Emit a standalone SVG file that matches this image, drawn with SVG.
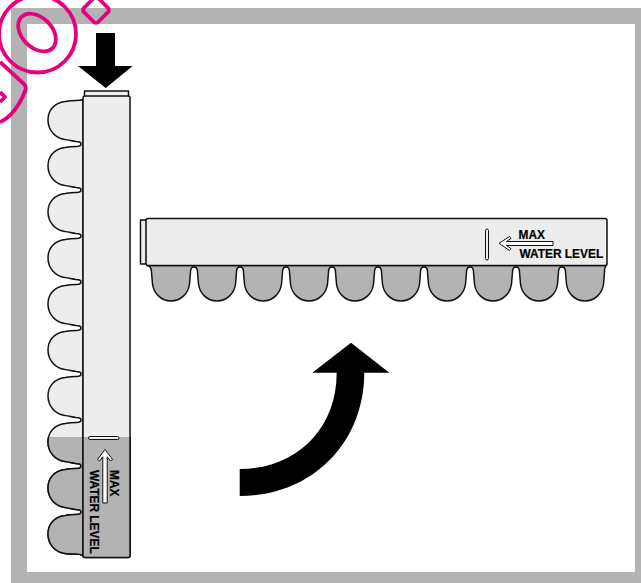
<svg xmlns="http://www.w3.org/2000/svg" width="641" height="583" viewBox="0 0 641 583">
<style>
.o{stroke:#111;stroke-width:1.5;stroke-linejoin:round}
.l{fill:#ededed}
.g{fill:#b3b3b3}
.m{fill:none;stroke:#e6007e;stroke-width:3.8;stroke-linejoin:round}
.a{fill:#fff;stroke:#111;stroke-width:1;stroke-linejoin:round}
.t{font-family:"Liberation Sans",Arial,sans-serif;font-weight:700;font-size:11.9px;fill:#000;stroke:#000;stroke-width:.2}
</style>
<defs>
<path id="vl" d="M83,99.500c-2,1 -4,1 -7,1
c-4,0 -8,.5 -11,1 c-11,1.500 -17,9 -17,18.500 c0,10 7,18 17,19.500 c4,.5 7,1.500 11,2 c3,0 5,1 5,2.500 c0,1.500 -2,2.500 -5,2.500
c-4,0 -8,.5 -11,1 c-11,1.500 -17,9 -17,18.500 c0,10 7,18 17,19.500 c4,.5 7,1.500 11,2 c3,0 5,1 5,2.500 c0,1.500 -2,2.500 -5,2.500
c-4,0 -8,.5 -11,1 c-11,1.500 -17,9 -17,18.500 c0,10 7,18 17,19.500 c4,.5 7,1.500 11,2 c3,0 5,1 5,2.500 c0,1.500 -2,2.500 -5,2.500
c-4,0 -8,.5 -11,1 c-11,1.500 -17,9 -17,18.500 c0,10 7,18 17,19.500 c4,.5 7,1.500 11,2 c3,0 5,1 5,2.500 c0,1.500 -2,2.500 -5,2.500
c-4,0 -8,.5 -11,1 c-11,1.500 -17,9 -17,18.500 c0,10 7,18 17,19.500 c4,.5 7,1.500 11,2 c3,0 5,1 5,2.500 c0,1.500 -2,2.500 -5,2.500
c-4,0 -8,.5 -11,1 c-11,1.500 -17,9 -17,18.500 c0,10 7,18 17,19.500 c4,.5 7,1.500 11,2 c3,0 5,1 5,2.500 c0,1.500 -2,2.500 -5,2.500
c-4,0 -8,.5 -11,1 c-11,1.500 -17,9 -17,18.500 c0,10 7,18 17,19.500 c4,.5 7,1.500 11,2 c3,0 5,1 5,2.500 c0,1.500 -2,2.500 -5,2.500
c-4,0 -8,.5 -11,1 c-11,1.500 -17,9 -17,18.500 c0,10 7,18 17,19.500 c4,.5 7,1.500 11,2 c3,0 5,1 5,2.500 c0,1.500 -2,2.500 -5,2.500
c-4,0 -8,.5 -11,1 c-11,1.500 -17,9 -17,18.500 c0,10 7,18 17,19.500 c4,.5 7,1.500 11,2 c3,0 5,1 5,2.500 c0,1.500 -2,2.500 -5,2.500
c-4,0 -8,.5 -11,1 c-11,1.500 -17,9 -17,18.500 c0,10 7,18 17,19.500 c3,.5 7,.5 11,.5 c3,0 5,.5 7,1.500 Z"/>
<rect id="vb" x="83" y="96" width="47" height="461.500" rx="2"/>
<clipPath id="water"><rect x="30" y="437" width="110" height="125"/></clipPath>
</defs>
<path id="frame" class="g" fill-rule="evenodd" d="M11,8H641V583H11ZM27,24V572H635V24Z"/>
<g id="marks">
<circle class="m" cx="37.500" cy="34" r="38.500"/>
<ellipse class="m" cx="37" cy="32.500" rx="22" ry="15" transform="rotate(45 37 32.500)"/>
<rect class="m" x="86" y="0" width="20" height="20" rx="3" transform="rotate(45 96 10)"/>
<path class="m" d="M0,62L24,84Q27,87 25,91C20,105 10,118 0,122"/>
<path class="m" d="M0,92L5,97L0,102"/>
</g>
<g id="tray-vertical">
<rect class="l o" x="84.500" y="91" width="44" height="6"/>
<use href="#vl" class="l o"/>
<use href="#vb" class="l o"/>
<g clip-path="url(#water)">
<use href="#vl" class="g o"/>
<use href="#vb" class="g o"/>
</g>
<rect class="l o" x="88.500" y="436.500" width="30.500" height="3" rx="1.500" style="stroke-width:1"/>
<path class="a" d="M105,449.500L112.500,459.500L110.500,461L107.200,456.800V503H102.800V456.800L99.500,461L97.500,459.500Z"/>
<text class="t" transform="translate(110 470) rotate(90)">MAX</text>
<text class="t" transform="translate(89.500 470) rotate(90)">WATER LEVEL</text>
</g>
<g id="tray-horizontal">
<rect class="l o" x="140.500" y="220" width="6" height="44"/>
<path class="g o" d="M147,265.500C150,266 151.500,268 151.500,272
l1,12 c1,9 8.500,17 18.500,17 c10,0 17.500,-8 18.500,-17 l1,-12 c0,-3 1,-5 3.500,-5 c2.500,0 3.500,2 3.500,5
l1,12 c1,9 8.500,17 18.500,17 c10,0 17.500,-8 18.500,-17 l1,-12 c0,-3 1,-5 3.500,-5 c2.500,0 3.500,2 3.500,5
l1,12 c1,9 8.500,17 18.500,17 c10,0 17.500,-8 18.500,-17 l1,-12 c0,-3 1,-5 3.500,-5 c2.500,0 3.500,2 3.500,5
l1,12 c1,9 8.500,17 18.500,17 c10,0 17.500,-8 18.500,-17 l1,-12 c0,-3 1,-5 3.500,-5 c2.500,0 3.500,2 3.500,5
l1,12 c1,9 8.500,17 18.500,17 c10,0 17.500,-8 18.500,-17 l1,-12 c0,-3 1,-5 3.500,-5 c2.500,0 3.500,2 3.500,5
l1,12 c1,9 8.500,17 18.500,17 c10,0 17.500,-8 18.500,-17 l1,-12 c0,-3 1,-5 3.500,-5 c2.500,0 3.500,2 3.500,5
l1,12 c1,9 8.500,17 18.500,17 c10,0 17.500,-8 18.500,-17 l1,-12 c0,-3 1,-5 3.500,-5 c2.500,0 3.500,2 3.500,5
l1,12 c1,9 8.500,17 18.500,17 c10,0 17.500,-8 18.500,-17 l1,-12 c0,-3 1,-5 3.500,-5 c2.500,0 3.500,2 3.500,5
l1,12 c1,9 8.500,17 18.500,17 c10,0 17.500,-8 18.500,-17 l1,-12 c0,-3 1,-5 3.500,-5 c2.500,0 3.500,2 3.500,5
l1,12 c1,9 8.500,17 18.500,17 c10,0 17.500,-8 18.500,-17 l1,-12 c0,-3 .5,-5.500 2,-6.500 Z"/>
<rect class="l o" x="146" y="218.500" width="461" height="47" rx="2"/>
<rect class="l o" x="485.500" y="229" width="3" height="31" rx="1.500" style="stroke-width:1"/>
<path class="a" d="M499,243.300L509.500,236.500L511,238.500L506.500,241.500H553V245.500H506.500L511,248.500L509.500,250.500Z"/>
<text class="t" x="518.500" y="239">MAX</text>
<text class="t" x="519.500" y="257.500">WATER LEVEL</text>
</g>
<g id="connectors">
<path d="M96,33H115V66H132.700L105.700,88L78,66H96Z"/>
<path d="M351,342.700L389.300,372.700H364.300C364,445 310,496 239.700,496V469C295,469 336.700,430 336.700,372.700H312.300Z"/>
</g>
</svg>
